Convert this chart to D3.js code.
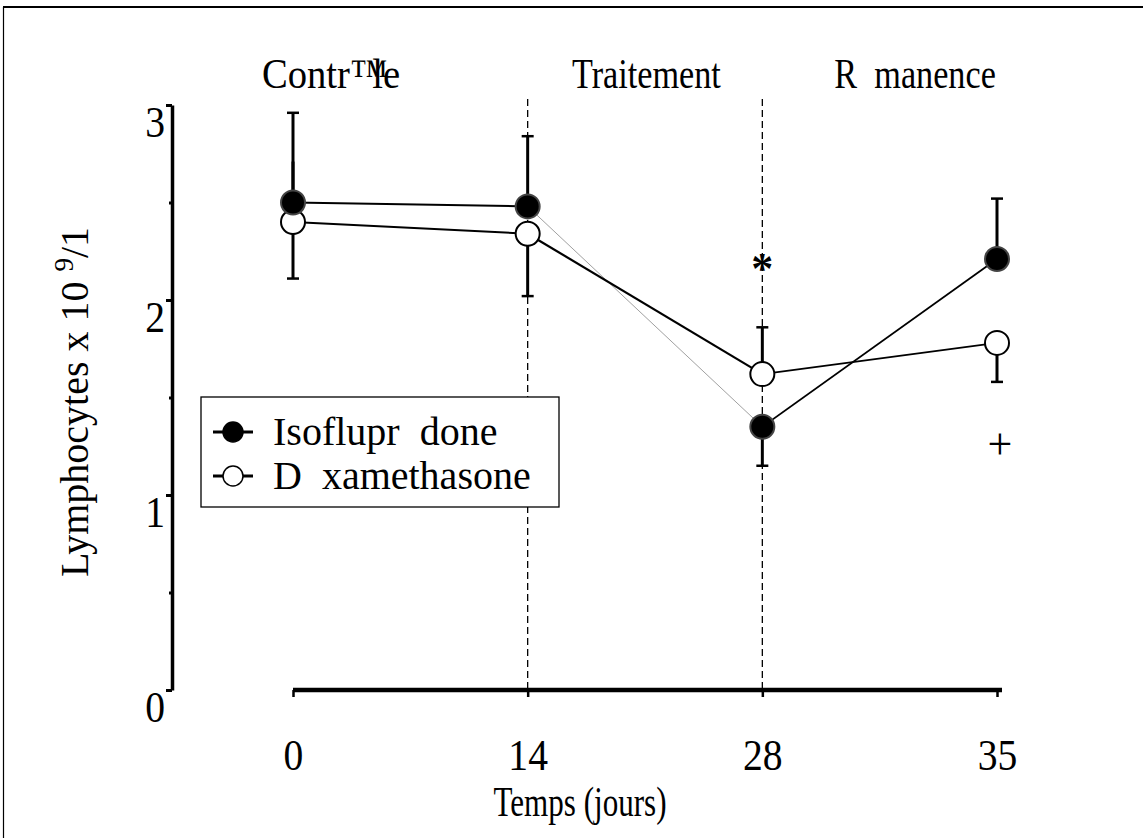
<!DOCTYPE html>
<html><head><meta charset="utf-8">
<script src="https://cdn.jsdelivr.net/npm/d3@7"></script>
<style>
html,body{margin:0;padding:0;background:#fff;}
svg{display:block;font-family:"Liberation Serif","Times New Roman",serif;}
text{white-space:pre;}
</style></head>
<body>
<svg id="chart" width="1143" height="838"></svg>
<script>
// ---- data ----
const days = ["0", "14", "28", "35"];
const phaseParts = [["Contr", "\u2122", "le"], ["Traitement"], ["R  manence"]];
const phaseAt = [0.162, 1.506, 2.651];   // label centres in category units
const yTicks = [0, 0.5, 1, 1.5, 2, 2.5, 3];
const yLabels = ["0", "", "1", "", "2", "", "3"];
const isoValues = [2.50, 2.48, 1.35, 2.21];
const dexValues = [2.40, 2.34, 1.62, 1.78];
const isoErrHi = [2.96, 2.84, null, 2.52];
const isoErrLo = [null, null, 1.15, null];
const dexErrHi = [2.71, null, 1.86, null];
const dexErrLo = [2.11, 2.02, null, 1.58];
const dexHiCap = [false, true, true, true];
const dividers = ["14", "28"];
const seriesNames = ["Isoflupr  done", "D  xamethasone"];
const marks = [{day: "28", text: "*", value: 2.21}, {day: "35", text: "+", value: 1.26}];

const phaseSx = [0.92, 0.815, 0.815];
const svg = d3.select("#chart");
const x = d3.scalePoint().domain(days).range([293, 997]);
const y = d3.scaleLinear().domain([0, 3]).range([690, 105]);
const unit = x(days[1]) - x(days[0]);

// frame
svg.append("line").attr("x1", 3).attr("x2", 1143).attr("y1", 7).attr("y2", 7)
  .attr("stroke", "#000").attr("stroke-width", 2);
svg.append("line").attr("x1", 3.5).attr("x2", 3.5).attr("y1", 7).attr("y2", 838)
  .attr("stroke", "#000").attr("stroke-width", 1.2);

// dashed dividers
svg.selectAll(".div").data(dividers).enter().append("line")
  .attr("x1", d => x(d)).attr("x2", d => x(d))
  .attr("y1", y(3) - 6).attr("y2", y(0))
  .attr("stroke", "#000").attr("stroke-width", 1.3).attr("stroke-dasharray", "7,4");

// y axis
const yAxis = d3.axisLeft(y).tickValues(yTicks).tickSize(0).tickFormat("");
const gy = svg.append("g").attr("transform", "translate(172,0)").call(yAxis);
gy.select(".domain").attr("stroke-width", 3.5);
gy.selectAll(".tick").append("line")
  .attr("x1", 0).attr("x2", (d, i) => yLabels[i] ? -6 : -3)
  .attr("stroke", "#000").attr("stroke-width", 3);
gy.selectAll(".tick").append("text")
  .attr("transform", "translate(-7,31) scale(0.9,1)")
  .attr("fill", "#000").attr("text-anchor", "end").attr("font-size", 44)
  .attr("font-family", "Liberation Serif")
  .text((d, i) => yLabels[i]);

// x axis
const xAxis = d3.axisBottom(x).tickSize(7).tickFormat("").tickSizeOuter(0);
const gx = svg.append("g").attr("transform", `translate(0,${y(0)})`).call(xAxis);
gx.select(".domain").attr("d", `M${x(days[0])},0H${x(days[3]) + 5}`).attr("stroke-width", 4.5);
gx.selectAll(".tick line").attr("stroke-width", 2.5);
gx.selectAll(".tick").append("text")
  .attr("transform", "translate(0,80) scale(0.9,1)")
  .attr("fill", "#000").attr("text-anchor", "middle").attr("font-size", 44)
  .attr("font-family", "Liberation Serif")
  .text(d => d);

// phase labels
phaseParts.forEach((parts, i) => {
  const t = svg.append("text")
    .attr("transform", `translate(${x(days[0]) + phaseAt[i] * unit},88) scale(${phaseSx[i]},1)`)
    .attr("text-anchor", "middle").attr("font-size", 42);
  if (parts.length === 1) { t.text(parts[0]); return; }
  t.append("tspan").text(parts[0]);
  t.append("tspan").text(parts[1]);
  t.append("tspan").attr("dx", -17).text(parts[2]);
});

// axis titles
svg.append("text").attr("transform", "translate(580,816) scale(0.74,1)")
  .attr("text-anchor", "middle").attr("font-size", 42).text("Temps (jours)");
const yt = svg.append("text").attr("transform", "translate(88,402) rotate(-90)")
  .attr("text-anchor", "middle").attr("font-size", 40);
yt.append("tspan").text("Lymphocytes x 10 ");
yt.append("tspan").attr("font-size", 27).attr("dy", -15).text("9");
yt.append("tspan").attr("dy", 15).text("/1");

// error bars
function errBars(vals, ends, caps) {
  days.forEach((d, i) => {
    if (ends[i] == null) return;
    svg.append("line").attr("x1", x(d)).attr("x2", x(d))
      .attr("y1", y(vals[i])).attr("y2", y(ends[i]))
      .attr("stroke", "#000").attr("stroke-width", 3);
    if (!caps || caps[i]) {
      svg.append("line").attr("x1", x(d) - 6).attr("x2", x(d) + 6)
        .attr("y1", y(ends[i])).attr("y2", y(ends[i]))
        .attr("stroke", "#000").attr("stroke-width", 2.5);
    }
  });
}
errBars(isoValues, isoErrHi);
errBars(isoValues, isoErrLo);
errBars(dexValues, dexErrHi, dexHiCap);
errBars(dexValues, dexErrLo);

// lines
const segW = [[2, 0.8, 1.8], [2, 2.2, 1.8]];
const segC = [["#000", "#888", "#000"], ["#000", "#000", "#000"]];
[isoValues, dexValues].forEach((vals, s) => {
  for (let i = 0; i < days.length - 1; i++) {
    svg.append("line").attr("x1", x(days[i])).attr("y1", y(vals[i]))
      .attr("x2", x(days[i + 1])).attr("y2", y(vals[i + 1]))
      .attr("stroke", segC[s][i]).attr("stroke-width", segW[s][i]);
  }
});

// markers
svg.selectAll(".dex").data(dexValues).enter().append("circle")
  .attr("cx", (d, i) => x(days[i])).attr("cy", d => y(d)).attr("r", 12)
  .attr("fill", "#fff").attr("stroke", "#000").attr("stroke-width", 2);
svg.selectAll(".iso").data(isoValues).enter().append("circle")
  .attr("cx", (d, i) => x(days[i])).attr("cy", d => y(d)).attr("r", 12)
  .attr("fill", "#000").attr("stroke", "#444").attr("stroke-width", 2);

// significance marks
svg.selectAll(".sig").data(marks).enter().append("text")
  .attr("x", d => x(d.day) + (d.text === "+" ? 3 : 0)).attr("y", d => y(d.value))
  .attr("text-anchor", "middle").attr("dominant-baseline", "central")
  .attr("font-size", 44).attr("font-weight", d => d.text === "*" ? "bold" : "normal")
  .attr("dy", d => d.text === "*" ? 9 : 0)
  .text(d => d.text);

// legend
const lg = svg.append("g").attr("transform", "translate(201,397)");
lg.append("rect").attr("width", 358).attr("height", 110)
  .attr("fill", "#fff").attr("stroke", "#000").attr("stroke-width", 1.3);
seriesNames.forEach((name, i) => {
  const cy = 35 + i * 44;
  lg.append("line").attr("x1", 12).attr("x2", 52).attr("y1", cy).attr("y2", cy)
    .attr("stroke", "#000").attr("stroke-width", 3);
  lg.append("circle").attr("cx", 32).attr("cy", cy).attr("r", 10)
    .attr("fill", i === 0 ? "#000" : "#fff").attr("stroke", "#000").attr("stroke-width", 1.5);
  lg.append("text").attr("x", 72).attr("y", cy + 13).attr("font-size", 40).text(name);
});
</script>
</body></html>
